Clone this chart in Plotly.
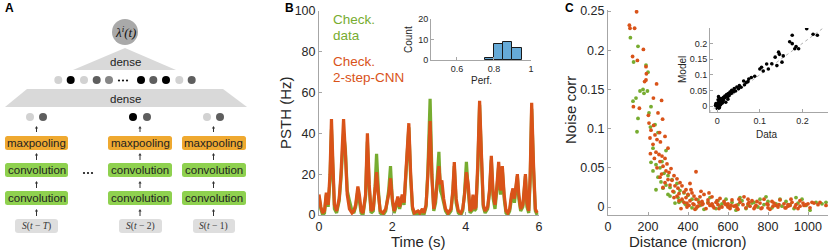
import plotly.graph_objects as go

W, H = 830, 252

# ---------------- Panel B data ----------------
t_psth = [0.00,0.05,0.10,0.15,0.20,0.25,0.30,0.34,0.38,0.42,
          0.48,0.55,0.60,0.67,0.72,0.77,0.83,0.90,0.95,1.00,
          1.06,1.10,1.15,1.20,1.27,1.32,1.37,1.42,1.48,1.53,
          1.57,1.62,1.67,1.75,1.82,1.90,1.95,2.00,2.05,2.10,
          2.15,2.20,2.27,2.32,2.37,2.45,2.50,2.55,2.60,2.70,
          2.75,2.82,2.86,2.92,2.97,3.03,3.08,3.13,3.18,3.23,
          3.27,3.31,3.35,3.40,3.45,3.52,3.60,3.65,3.69,3.74,
          3.80,3.87,3.92,3.97,4.02,4.07,4.12,4.17,4.20,4.24,
          4.28,4.33,4.38,4.43,4.48,4.53,4.60,4.65,4.70,4.75,
          4.80,4.85,4.90,4.95,5.00,5.05,5.10,5.15,5.20,5.25,
          5.29,5.33,5.37,5.41,5.45,5.50,5.56,5.60,5.63,5.67,
          5.72,5.76,5.80,5.85,5.90,5.95]
psth_cnn = [10,4,1,2,11,5,20,47,25,5,
            2,8,20,47,30,10,3,1,2,5,
            14,10,2,1,10,40,15,2,3,12,
            21,10,2,1,3,10,18,8,2,5,
            9,4,10,6,20,45,20,4,1,2,
            1,3,1,5,20,46,18,3,8,18,
            24,15,17,8,3,1,3,12,26,8,
            2,1,3,10,21,15,2,3,10,3,
            4,25,56,30,5,2,4,12,29,10,
            5,14,26,12,24,10,2,1,3,10,
            13,8,15,20,10,3,5,15,20,6,
            2,20,55,25,3,1]
psth_data = [9,3,0,1,10,4,17,42,22,3,
             1,7,18,40,32,12,7,2,1,4,
             12,8,1,0,9,36,13,1,2,14,
             30,12,1,0,2,12,24,7,1,4,
             8,3,9,5,18,43,18,3,0,1,
             0,2,0,4,22,57,20,2,6,22,
             31,12,10,6,2,0,2,11,24,6,
             1,0,2,11,26,12,1,2,9,2,
             3,22,54,28,4,1,3,11,27,8,
             3,12,24,10,22,8,1,0,2,8,
             12,6,13,19,8,2,4,13,19,4,
             1,17,52,22,2,0]
assert len(t_psth) == len(psth_cnn) == len(psth_data)

perf_bin_centers = [0.775, 0.825, 0.875, 0.925]
perf_counts = [1, 8, 9, 6]
perf_bin_width = 0.05

# ---------------- Panel C data ----------------
dist_cnn = [143,107,110,133,177,123,147,190,192,190,183,243,227,268,127,157,202,250,273,205,
            228,215,258,235,285,210,245,262,225,300,212,240,255,270,232,285,260,295,275,245,
            315,290,305,268,330,260,345,300,320,285,360,310,335,370,275,350,390,325,380,440,
            410,420,355,400,345,430,390,460,440,370,480,410,455,500,520,395,475,540,430,560,
            510,580,445,600,530,620,490,640,570,660,680,610,700,650,720,740,690,760,780,730,
            800,820,770,840,860,810,880,900,850,920,940,960,980,1000,1020,1050,1090,1010,950,890,
            710,630,550,470,415,465,505,545,590,655,745,830,915,975,330,355,380,405,425,450,
            365,395,435,470,500,525,555,585,615,645,675,705,735,765,795,825,855,885,910,935,
            960,990,1030,1060,520,600,700,800,900]
corr_cnn = [0.249,0.232,0.228,0.228,0.201,0.192,0.187,0.179,0.170,0.162,0.160,0.157,0.139,0.136,0.128,0.126,0.117,0.120,0.112,0.107,
            0.104,0.098,0.095,0.092,0.090,0.088,0.086,0.083,0.080,0.075,0.068,0.070,0.067,0.065,0.062,0.062,0.058,0.055,0.052,0.050,
            0.049,0.046,0.044,0.042,0.040,0.038,0.036,0.035,0.034,0.031,0.031,0.028,0.027,0.027,0.025,0.024,0.022,0.020,0.019,0.045,
            0.030,0.018,0.017,0.016,0.014,0.014,0.012,0.013,0.010,0.010,0.016,0.008,0.006,0.009,0.013,0.005,0.004,0.006,0.003,0.011,
            0.002,0.007,0.000,0.004,-0.001,0.009,-0.002,0.002,0.000,0.006,0.013,-0.002,0.004,-0.003,0.008,0.002,-0.001,0.005,0.010,-0.002,
            0.003,0.007,-0.001,0.002,0.009,-0.003,0.004,0.001,0.000,0.006,0.003,0.008,0.002,0.004,0.006,0.003,0.002,-0.001,-0.002,-0.001,
            0.001,0.001,0.003,0.007,0.022,0.020,0.018,0.008,0.003,0.010,0.007,0.005,0.010,0.005,0.012,0.008,0.006,0.002,0.004,0.001,
            -0.002,0.000,-0.003,0.003,0.005,0.001,-0.002,0.004,0.002,-0.001,0.003,0.006,0.000,-0.002,0.004,0.001,0.003,-0.001,0.002,0.000,
            0.001,0.003,0.005,0.006,0.004,0.000,0.010,-0.001,0.003]
dist_data = [112,150,190,128,200,175,180,197,160,140,125,215,205,150,235,212,145,250,225,290,
             215,240,270,260,225,280,300,250,320,265,345,290,310,240,360,330,380,300,400,350,
             420,370,450,390,470,420,500,480,520,550,540,570,600,590,620,650,640,670,700,690,
             720,750,760,780,800,820,840,870,890,910,930,950,970,990,1010,1040,1070,1090,460,510,
             560,610,660,730,790,860,940,335,385,440,275,310,355]
corr_data = [0.216,0.205,0.181,0.185,0.172,0.150,0.145,0.148,0.148,0.139,0.135,0.128,0.120,0.113,0.105,0.102,0.096,0.095,0.075,0.072,
             0.057,0.054,0.058,0.050,0.046,0.043,0.040,0.038,0.035,0.032,0.030,0.028,0.025,0.022,0.021,0.019,0.018,0.016,0.015,0.012,
             0.010,0.008,0.009,0.003,0.005,-0.001,0.006,-0.003,0.003,0.008,-0.002,0.004,0.001,0.010,0.006,0.003,-0.004,0.008,0.002,-0.002,
             0.005,0.000,0.010,0.003,0.007,-0.001,0.004,0.001,0.007,0.003,-0.002,0.005,0.010,0.002,-0.004,0.006,0.004,0.006,0.002,0.012,
             0.001,0.000,0.012,0.006,0.013,0.010,0.012,0.005,0.004,-0.002,0.024,0.014,0.006]

model_vs_data_x = [0.210,0.225,0.235,0.176,0.176,0.182,0.191,0.185,0.144,0.146,0.152,0.140,0.136,0.116,0.120,0.100,0.104,0.080,0.074,0.068,
                   0.062,0.052,0.046,0.040,0.034,0.030,0.026,0.022,0.018,0.015,0.012,0.010,0.008,0.006,0.004,0.002,0.000,-0.002,-0.004,0.001,
                   0.003,0.005,0.007,0.009,0.011,0.013,0.016,0.019,0.024,0.028,0.033,0.038,0.043,0.050,0.056,0.064,0.072,0.088,0.108,0.128,
                   0.002,0.006,0.010,0.014,0.000,0.004,0.008,0.012,-0.003,0.003,0.020,0.025,0.170,0.155]
model_vs_data_y = [0.247,0.229,0.226,0.226,0.199,0.183,0.183,0.190,0.172,0.165,0.140,0.129,0.156,0.134,0.118,0.118,0.124,0.091,0.086,0.075,
                   0.080,0.065,0.061,0.056,0.050,0.045,0.040,0.037,0.032,0.028,0.025,0.022,0.018,0.015,0.012,0.010,0.006,0.004,0.002,0.000,
                   -0.003,-0.005,0.003,0.008,0.016,0.020,0.025,0.028,0.030,0.034,0.040,0.046,0.048,0.055,0.060,0.068,0.078,0.095,0.112,0.135,
                   0.020,0.024,0.013,0.018,-0.008,-0.006,0.005,0.010,0.008,0.030,0.012,0.022,0.205,0.160]

# ---------------- colors / fonts ----------------
GREEN = '#77AC30'
ORANGE = '#D95319'
AX = '#a6a6a6'
TXT = '#262626'
FONT = 'Liberation Sans'

def px(x):
    return x / W

def py(y):
    return 1 - y / H

fig = go.Figure()

# Panel B traces
fig.add_trace(go.Scatter(x=t_psth, y=psth_data, mode='lines', line=dict(color=GREEN, width=3.2),
                         xaxis='x', yaxis='y', showlegend=False))
fig.add_trace(go.Scatter(x=t_psth, y=psth_cnn, mode='lines', line=dict(color=ORANGE, width=3.2),
                         xaxis='x', yaxis='y', showlegend=False))
fig.add_trace(go.Bar(x=perf_bin_centers, y=perf_counts, width=perf_bin_width,
                     marker=dict(color='#66aad7', line=dict(color='#1a1a1a', width=1)),
                     xaxis='x2', yaxis='y2', showlegend=False))

# Panel C traces
fig.add_trace(go.Scatter(x=dist_data, y=corr_data, mode='markers',
                         marker=dict(color=GREEN, size=3.8), xaxis='x3', yaxis='y3', showlegend=False))
fig.add_trace(go.Scatter(x=dist_cnn, y=corr_cnn, mode='markers',
                         marker=dict(color=ORANGE, size=3.8), xaxis='x3', yaxis='y3', showlegend=False))
fig.add_trace(go.Scatter(x=[-0.02, 0.26], y=[-0.02, 0.26], mode='lines',
                         line=dict(color='#b0b0b0', width=1, dash='dot'), xaxis='x4', yaxis='y4', showlegend=False))
fig.add_trace(go.Scatter(x=model_vs_data_x, y=model_vs_data_y, mode='markers',
                         marker=dict(color='black', size=3.6), xaxis='x4', yaxis='y4', showlegend=False))

# dummy trace for panel A axes
fig.add_trace(go.Scatter(x=[0], y=[0], mode='markers', marker=dict(opacity=0), xaxis='x5', yaxis='y5',
                         showlegend=False, hoverinfo='skip'))

def ax_common(size=12.5):
    return dict(showline=True, linecolor=AX, linewidth=1, ticks='inside', ticklen=3, tickcolor=AX,
                showgrid=False, zeroline=False, automargin=False,
                tickfont=dict(family=FONT, size=size, color=TXT))

fig.update_layout(
    width=W, height=H, margin=dict(l=0, r=0, t=0, b=0, autoexpand=False),
    paper_bgcolor='white', plot_bgcolor='rgba(0,0,0,0)',
    xaxis=dict(domain=[px(319), px(539)], range=[0, 6], tickvals=[0, 2, 4, 6], anchor='y', **ax_common()),
    yaxis=dict(domain=[py(215), py(11)], range=[0, 100], tickvals=[0, 20, 40, 60, 80, 100], anchor='x', **ax_common()),
    xaxis2=dict(domain=[px(431), px(531)], range=[0.46, 1.0], tickvals=[0.6, 0.8, 1.0], ticktext=['0.6', '0.8', '1'],
                anchor='y2', **ax_common(9)),
    yaxis2=dict(domain=[py(60), py(19)], range=[0, 20], tickvals=[0, 10, 20], anchor='x2', **ax_common(9)),
    xaxis3=dict(domain=[px(608), px(828)], range=[0, 1100], tickvals=[0, 200, 400, 600, 800, 1000], anchor='y3', **ax_common()),
    yaxis3=dict(domain=[py(215), py(10)], range=[-0.0102, 0.2513], tickvals=[0, 0.05, 0.1, 0.15, 0.2, 0.25],
                ticktext=['0', '0.05', '0.1', '0.15', '0.2', '0.25'], anchor='x3', **ax_common()),
    xaxis4=dict(domain=[px(710), px(828)], range=[-0.017, 0.26], tickvals=[0, 0.1, 0.2], ticktext=['0', '0.1', '0.2'],
                anchor='y4', **ax_common(9)),
    yaxis4=dict(domain=[py(112), py(28)], range=[-0.019, 0.249], tickvals=[0, 0.05, 0.1, 0.15, 0.2],
                ticktext=['0', '0.05', '0.1', '0.15', '0.2'], anchor='x4', **ax_common(9)),
    xaxis5=dict(domain=[0, px(280)], range=[0, 280], visible=False, anchor='y5', automargin=False),
    yaxis5=dict(domain=[0, 1], range=[252, 0], visible=False, anchor='x5', automargin=False),
    bargap=0,
)

shapes = []
ann = []

def A_text(x, y, text, size=11.5, color='#222', family=FONT):
    ann.append(dict(x=x, y=y, xref='x5', yref='y5', text=text, showarrow=False,
                    font=dict(family=family, size=size, color=color), xanchor='center', yanchor='middle'))

def rrect(x0, y0, x1, y1, r, fill):
    p = (f"M{x0+r},{y0} L{x1-r},{y0} Q{x1},{y0} {x1},{y0+r} L{x1},{y1-r} Q{x1},{y1} {x1-r},{y1} "
         f"L{x0+r},{y1} Q{x0},{y1} {x0},{y1-r} L{x0},{y0+r} Q{x0},{y0} {x0+r},{y0} Z")
    shapes.append(dict(type='path', path=p, xref='x5', yref='y5', fillcolor=fill, line=dict(width=0), layer='below'))

def dot(x, y, r, fill):
    shapes.append(dict(type='circle', x0=x - r, x1=x + r, y0=y - r, y1=y + r, xref='x5', yref='y5',
                       fillcolor=fill, line=dict(width=0)))

def arrow(x, y_tail, y_tip):
    shapes.append(dict(type='line', x0=x, x1=x, y0=y_tail, y1=y_tip + 2, xref='x5', yref='y5',
                       line=dict(color='#333', width=1)))
    shapes.append(dict(type='path', path=f'M{x-1.6},{y_tip+2.5} L{x},{y_tip} L{x+1.6},{y_tip+2.5} Z',
                       xref='x5', yref='y5', fillcolor='#333', line=dict(width=0)))

# Panel A diagram
LIGHT, BLACK, DARK, MID = '#d2d2d2', '#000000', '#5e5e5e', '#868686'
dot(125, 32, 13, '#a9a9a9')
A_text(125, 32, '<i>λ<sup>i</sup>(t)</i>', size=13, color='#111', family='Liberation Serif')
shapes.append(dict(type='path', path='M73,70 L125,48 L176,70 Z', xref='x5', yref='y5',
                   fillcolor='#d9d9d9', line=dict(width=0), layer='below'))
A_text(125, 62, 'dense')
row_x = [58.3, 70.7, 84, 96.7, 109, 141, 153.3, 166, 179.3, 191.7]
row_c = [LIGHT, BLACK, LIGHT, DARK, MID, BLACK, DARK, BLACK, LIGHT, DARK]
for x, c in zip(row_x, row_c):
    dot(x, 80, 4, c)
for dx in (-4, 0, 4):
    dot(123 + dx, 80.5, 1.1, '#111')
shapes.append(dict(type='path', path='M5,107 L27,89 L223,89 L247,107 Z', xref='x5', yref='y5',
                   fillcolor='#d9d9d9', line=dict(width=0), layer='below'))
A_text(125, 99, 'dense')

cols = [(5, 68, 36.5, (30, 43), (LIGHT, DARK), (15, 58), '<i>S</i>(<i>t</i> − <i>T</i>)'),
        (108, 172, 140, (133, 147), (BLACK, DARK), (119, 162), '<i>S</i>(<i>t</i> − 2)'),
        (182, 246, 213.5, (207, 220), (LIGHT, DARK), (193, 235), '<i>S</i>(<i>t</i> − 1)')]
for x0, x1, xc, dxs, dcs, (ix0, ix1), lab in cols:
    dot(dxs[0], 117, 4, dcs[0])
    dot(dxs[1], 117, 4, dcs[1])
    arrow(xc, 132, 126)
    rrect(x0, 136, x1, 150, 2.5, '#efa930')
    A_text(xc, 143, 'maxpooling')
    arrow(xc, 160, 153)
    rrect(x0, 163, x1, 177, 2.5, '#8fd14f')
    A_text(xc, 170, 'convolution')
    arrow(xc, 188, 181)
    rrect(x0, 191, x1, 205, 2.5, '#8fd14f')
    A_text(xc, 198, 'convolution')
    arrow(xc, 216, 209)
    rrect(ix0, 219, ix1, 233, 3, '#dedede')
    A_text(xc, 226, lab, size=9.5, color='#333', family='Liberation Serif')
for dx in (-4, 0, 4):
    dot(88 + dx, 173, 1.1, '#111')

def P_text(x, y, text, size=13, color=TXT, bold=False, angle=0, xanchor='center'):
    ann.append(dict(x=px(x), y=py(y), xref='paper', yref='paper', text=f'<b>{text}</b>' if bold else text,
                    showarrow=False, textangle=angle, xanchor=xanchor, yanchor='middle',
                    font=dict(family=FONT, size=size, color=color)))

# panel letters
P_text(3, 8, 'A', size=12, color='black', bold=True, xanchor='left')
P_text(283, 8, 'B', size=12, color='black', bold=True, xanchor='left')
P_text(563, 8, 'C', size=12, color='black', bold=True, xanchor='left')

# panel B labels
P_text(286, 113, 'PSTH (Hz)', size=15, angle=-90)
P_text(418, 241, 'Time (s)', size=15)
P_text(331, 20, 'Check.', size=13.5, color=GREEN, xanchor='left')
P_text(331, 36, 'data', size=13.5, color=GREEN, xanchor='left')
P_text(331, 61, 'Check.', size=13.5, color=ORANGE, xanchor='left')
P_text(331, 77, '2-step-CNN', size=13.5, color=ORANGE, xanchor='left')
P_text(408, 40, 'Count', size=10, angle=-90)
P_text(481, 81, 'Perf.', size=10)

# panel C labels
P_text(570, 110, 'Noise corr', size=15, angle=-90)
P_text(688, 241, 'Distance (micron)', size=15)
P_text(682, 70, 'Model', size=10, angle=-90)
P_text(767, 134, 'Data', size=10)

fig.update_layout(shapes=shapes, annotations=ann)
fig.write_html('out.html', config={'displayModeBar': False},
               post_script="document.body.style.margin='0';")
